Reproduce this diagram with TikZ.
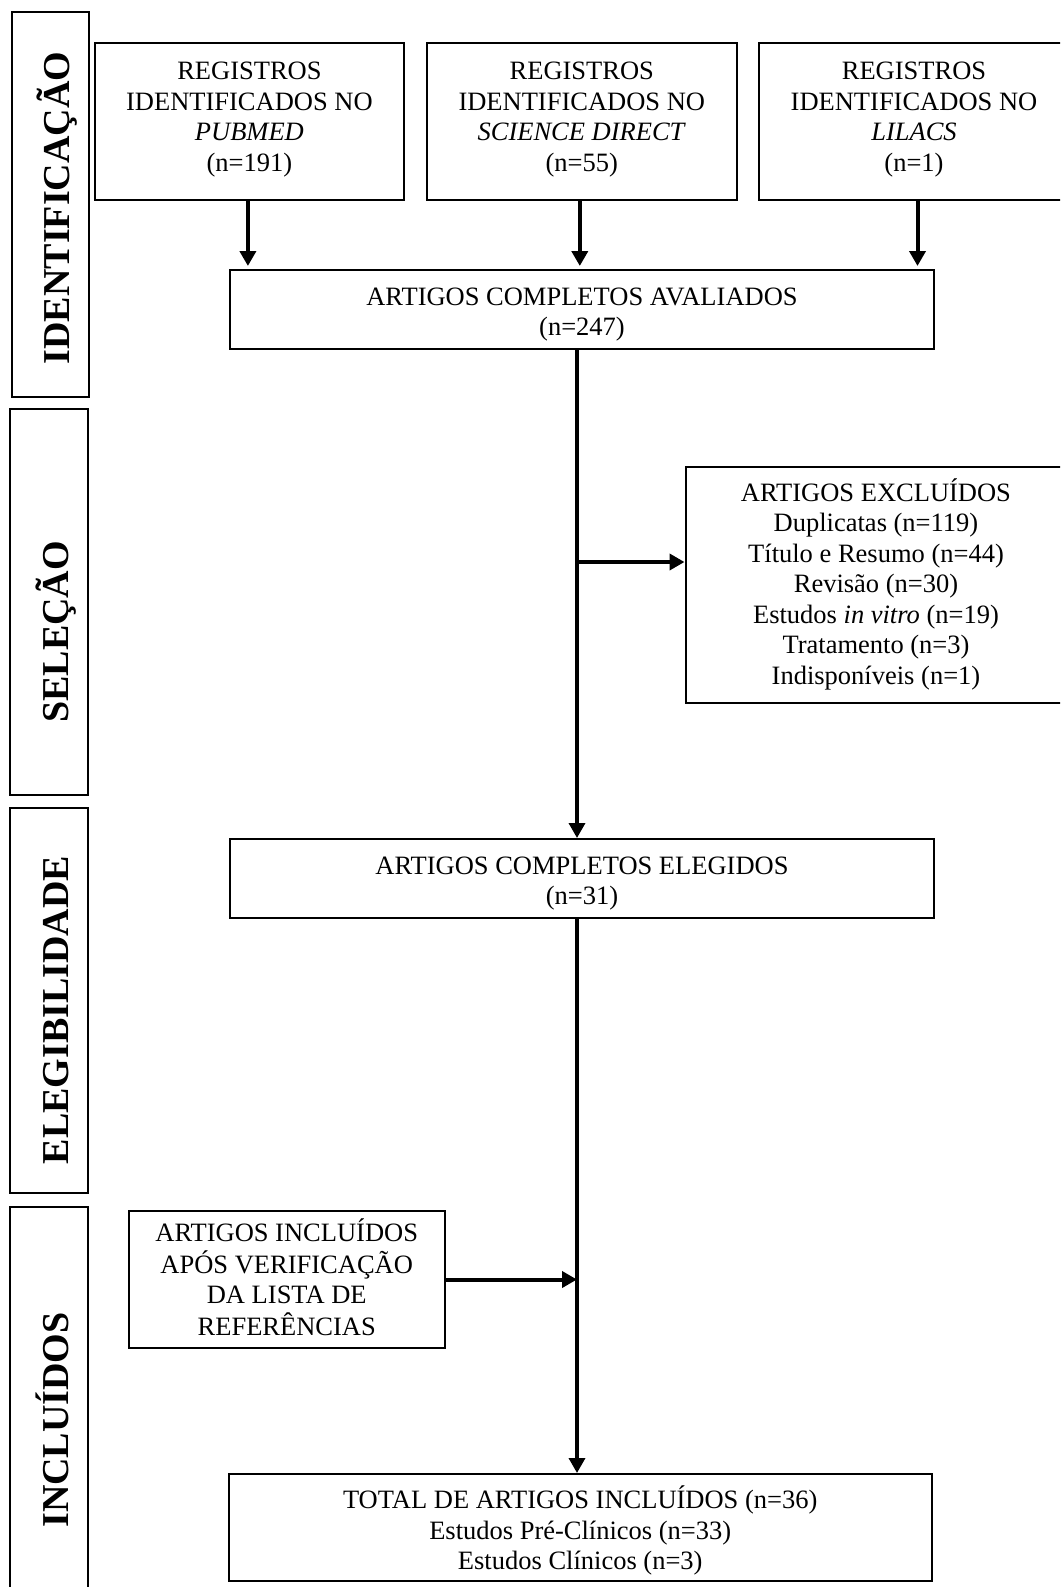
\documentclass[tikz,border=0pt]{standalone}
\usepackage{fontspec}
\setmainfont{Liberation Serif}
\usetikzlibrary{arrows.meta}
\newcommand{\mylines}[2]{\raisebox{#1}[\height][\depth]{\begin{tabular}{@{}c@{}}#2\end{tabular}}}
\begin{document}
\begin{tikzpicture}[x=1pt,y=-1pt,
  box/.style={draw, line width=2pt, rectangle, inner sep=0pt,
    font=\fontsize{26.5}{30.5}\selectfont},
  stage/.style={draw, line width=2pt, rectangle, inner sep=0pt},
  stagetext/.style={rotate=90, anchor=base, inner sep=0pt,
    font=\fontsize{38}{40}\selectfont\bfseries},
  arr/.style={line width=4pt, -{Triangle[length=15pt,width=16pt]}},
  spinearr/.style={line width=3.4pt, -{Triangle[length=15pt,width=16pt]}}]
\useasboundingbox (0,0) rectangle (1060,1587);
\clip (0,0) rectangle (1060,1587);

% stage boxes
\node[stage, minimum width=77pt, minimum height=385pt] (s1) at (50,204.5) {};
\node[stage, minimum width=78pt, minimum height=386pt] (s2) at (49,602) {};
\node[stage, minimum width=78pt, minimum height=385pt] (s3) at (49,1000.5) {};
\node[stage, minimum width=78pt, minimum height=400pt] (s4) at (49,1407) {};
\node[stagetext] (t1) at (69,208) {IDENTIFICAÇÃO};
\node[stagetext] (t2) at (68.5,632) {SELEÇÃO};
\node[stagetext] (t3) at (68.5,1010) {ELEGIBILIDADE};
\node[stagetext] (t4) at (68.5,1420) {INCLUÍDOS};

% top boxes
\node[box, minimum width=309pt, minimum height=157pt] (b1) at (249.4,121.5)
  {\mylines{2pt}{REGISTROS\\IDENTIFICADOS NO\\\textit{PUBMED}\\(n=191)}};
\node[box, minimum width=310pt, minimum height=157pt] (b2) at (581.8,121.5)
  {\mylines{2pt}{REGISTROS\\IDENTIFICADOS NO\\\textit{SCIENCE DIRECT}\\(n=55)}};
\node[box, minimum width=310pt, minimum height=157pt] (b3) at (914,121.5)
  {\mylines{2pt}{REGISTROS\\IDENTIFICADOS NO\\\textit{LILACS}\\(n=1)}};

\node[box, minimum width=704pt, minimum height=79pt] (aval) at (582,309.5)
  {\mylines{-5pt}{ARTIGOS COMPLETOS AVALIADOS\\(n=247)}};

\node[box, minimum width=381pt, minimum height=236pt] (excl) at (876,585)
  {\mylines{-1pt}{ARTIGOS EXCLUÍDOS\\Duplicatas (n=119)\\Título e Resumo (n=44)\\Revisão (n=30)\\Estudos \textit{in vitro} (n=19)\\Tratamento (n=3)\\Indisponíveis (n=1)}};

\node[box, minimum width=704pt, minimum height=79pt] (eleg) at (582,878.5)
  {\mylines{-5pt}{ARTIGOS COMPLETOS ELEGIDOS\\(n=31)}};

\node[box, minimum width=316.5pt, minimum height=137pt] (incl) at (286.75,1279.5)
  {\mylines{-2pt}{ARTIGOS INCLUÍDOS\\APÓS VERIFICAÇÃO\\DA LISTA DE\\REFERÊNCIAS}};

\node[box, minimum width=703.5pt, minimum height=107pt] (total) at (580.25,1527.5)
  {\mylines{-5pt}{TOTAL DE ARTIGOS INCLUÍDOS (n=36)\\Estudos Pré-Clínicos (n=33)\\Estudos Clínicos (n=3)}};

% connectors
\coordinate (spine) at (577,0);
\coordinate (j1) at (577,562);
\draw[arr, shorten >=3pt] ([xshift=-1.5pt]b1.south) -- ([xshift=-1.5pt]b1.south |- aval.north);
\draw[arr, shorten >=3pt] ([xshift=-2pt]b2.south) -- ([xshift=-2pt]b2.south |- aval.north);
\draw[arr, shorten >=3pt] ([xshift=3.5pt]b3.south) -- ([xshift=3.5pt]b3.south |- aval.north);
\draw[spinearr] (aval.south -| spine) -- (eleg.north -| spine);
\draw[arr] (j1) -- (j1 -| excl.west);
\draw[spinearr] (eleg.south -| spine) -- (total.north -| spine);
\draw[arr] (incl.east) -- (incl.east -| spine);
\end{tikzpicture}
\end{document}
